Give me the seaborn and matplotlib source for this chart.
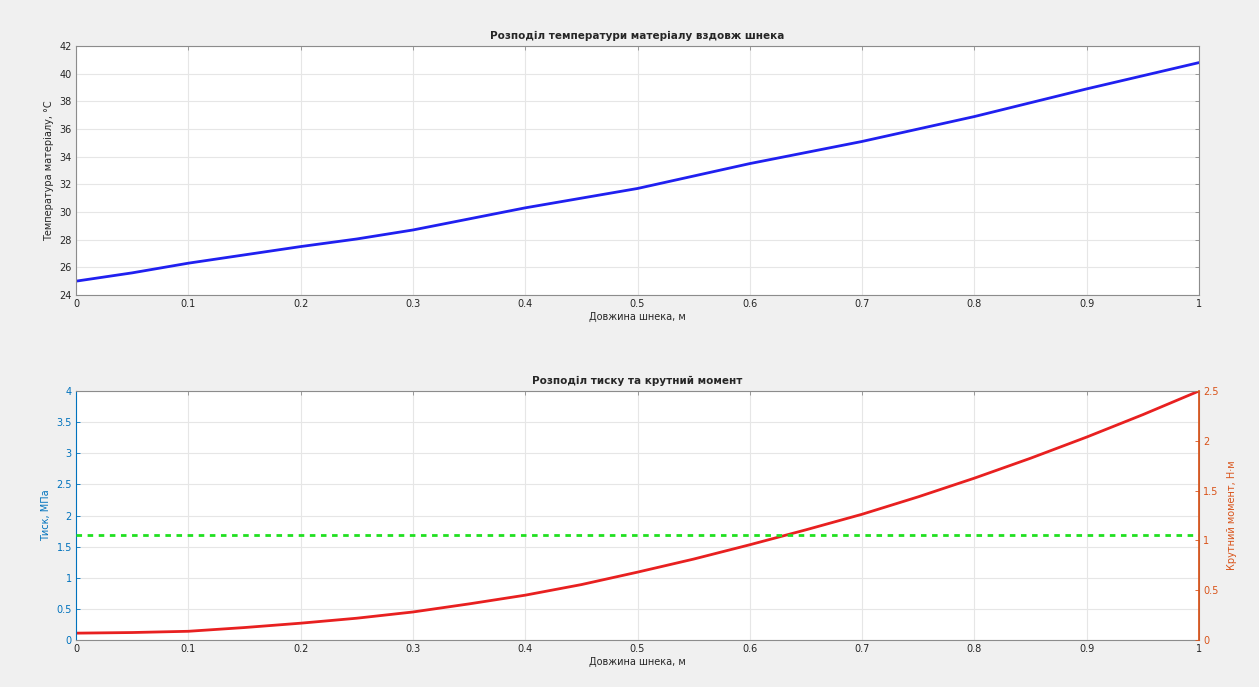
import numpy as np
import pandas as pd
import matplotlib
matplotlib.use("Agg")
import matplotlib.pyplot as plt
import seaborn as sns

# values (step 0.05 along the screw)
x_len = [0.0, 0.05, 0.1, 0.15, 0.2, 0.25, 0.3, 0.35, 0.4, 0.45, 0.5,
         0.55, 0.6, 0.65, 0.7, 0.75, 0.8, 0.85, 0.9, 0.95, 1.0]
temperature = [25.0, 25.6, 26.3, 26.9, 27.5, 28.05, 28.7, 29.5, 30.3, 31.0, 31.7,
               32.6, 33.5, 34.3, 35.1, 36.0, 36.9, 37.9, 38.9, 39.85, 40.8]
pressure = [0.11, 0.12, 0.14, 0.2, 0.27, 0.35, 0.45, 0.58, 0.72, 0.89, 1.09,
            1.3, 1.53, 1.77, 2.02, 2.3, 2.6, 2.92, 3.26, 3.62, 4.0]
torque = [1.05] * len(x_len)

x_ticks = [0, 0.1, 0.2, 0.3, 0.4, 0.5, 0.6, 0.7, 0.8, 0.9, 1]
x_labels = ["0", "0.1", "0.2", "0.3", "0.4", "0.5", "0.6", "0.7", "0.8", "0.9", "1"]

df = pd.DataFrame({"x": x_len, "temp": temperature, "p": pressure, "m": torque})

sns.set_theme(style="whitegrid")
plt.rcParams["font.family"] = ["DejaVu Sans"]

ml_blue = (0.0, 0.447, 0.741)
ml_orange = (0.85, 0.325, 0.098)
grid_c = "#e6e6e6"
axis_c = "#262626"
edge_c = "#8c8c8c"
fs = 7

fig = plt.figure(figsize=(12.59, 6.87), dpi=100, facecolor="#f0f0f0")
ax1 = fig.add_axes([76 / 1259, 1 - 295 / 687, 1123 / 1259, 249 / 687])
ax2 = fig.add_axes([76 / 1259, 1 - 640 / 687, 1123 / 1259, 249 / 687])


def style_axis(ax):
    ax.set_facecolor("white")
    ax.grid(True, color=grid_c, linewidth=0.8)
    ax.tick_params(direction="in", length=3, width=0.6, labelsize=fs, pad=3,
                   top=True, color=edge_c, labelcolor=axis_c)
    for s in ax.spines.values():
        s.set_color(edge_c)
        s.set_linewidth(0.8)
    ax.set_xlim(0, 1)
    ax.set_xticks(x_ticks)
    ax.set_xticklabels(x_labels)


# top: temperature
sns.lineplot(data=df, x="x", y="temp", ax=ax1, color="#2020f0", linewidth=2)
style_axis(ax1)
ax1.tick_params(right=True)
ax1.set_ylim(24, 42)
ax1.set_yticks(np.arange(24, 43, 2))
ax1.set_title("Розподіл температури матеріалу вздовж шнека", fontsize=7.5, fontweight="bold", pad=5)
ax1.set_xlabel("Довжина шнека, м", fontsize=fs, labelpad=2)
ax1.set_ylabel("Температура матеріалу, °C", fontsize=fs, labelpad=4)

# bottom: pressure and torque
sns.lineplot(data=df, x="x", y="p", ax=ax2, color="#e82020", linewidth=2)
style_axis(ax2)
ax2.set_ylim(0, 4)
ax2.set_yticks([0, 0.5, 1, 1.5, 2, 2.5, 3, 3.5, 4])
ax2.set_yticklabels(["0", "0.5", "1", "1.5", "2", "2.5", "3", "3.5", "4"])
ax2.tick_params(axis="y", color=ml_blue, labelcolor=ml_blue)
ax2.spines["left"].set_color(ml_blue)
ax2.set_title("Розподіл тиску та крутний момент", fontsize=7.5, fontweight="bold", pad=5)
ax2.set_xlabel("Довжина шнека, м", fontsize=fs, labelpad=2)
ax2.set_ylabel("Тиск, МПа", fontsize=fs, color=ml_blue, labelpad=4)

ax3 = ax2.twinx()
sns.lineplot(data=df, x="x", y="m", ax=ax3, color="#20e020", linewidth=2, linestyle=(0, (2, 2)))
ax3.set_ylim(0, 2.5)
ax3.set_yticks([0, 0.5, 1, 1.5, 2, 2.5])
ax3.set_yticklabels(["0", "0.5", "1", "1.5", "2", "2.5"])
ax3.grid(False)
ax3.tick_params(direction="in", length=3, width=0.6, labelsize=fs, colors=ml_orange, pad=3)
ax3.spines["right"].set_color(ml_orange)
for s in ["left", "top", "bottom"]:
    ax3.spines[s].set_visible(False)
ax3.set_ylabel("Крутний момент, Н·м", fontsize=fs, color=ml_orange, labelpad=6)
ax3.set_xlim(0, 1)

fig.savefig("out.png", dpi=100, facecolor=fig.get_facecolor())
